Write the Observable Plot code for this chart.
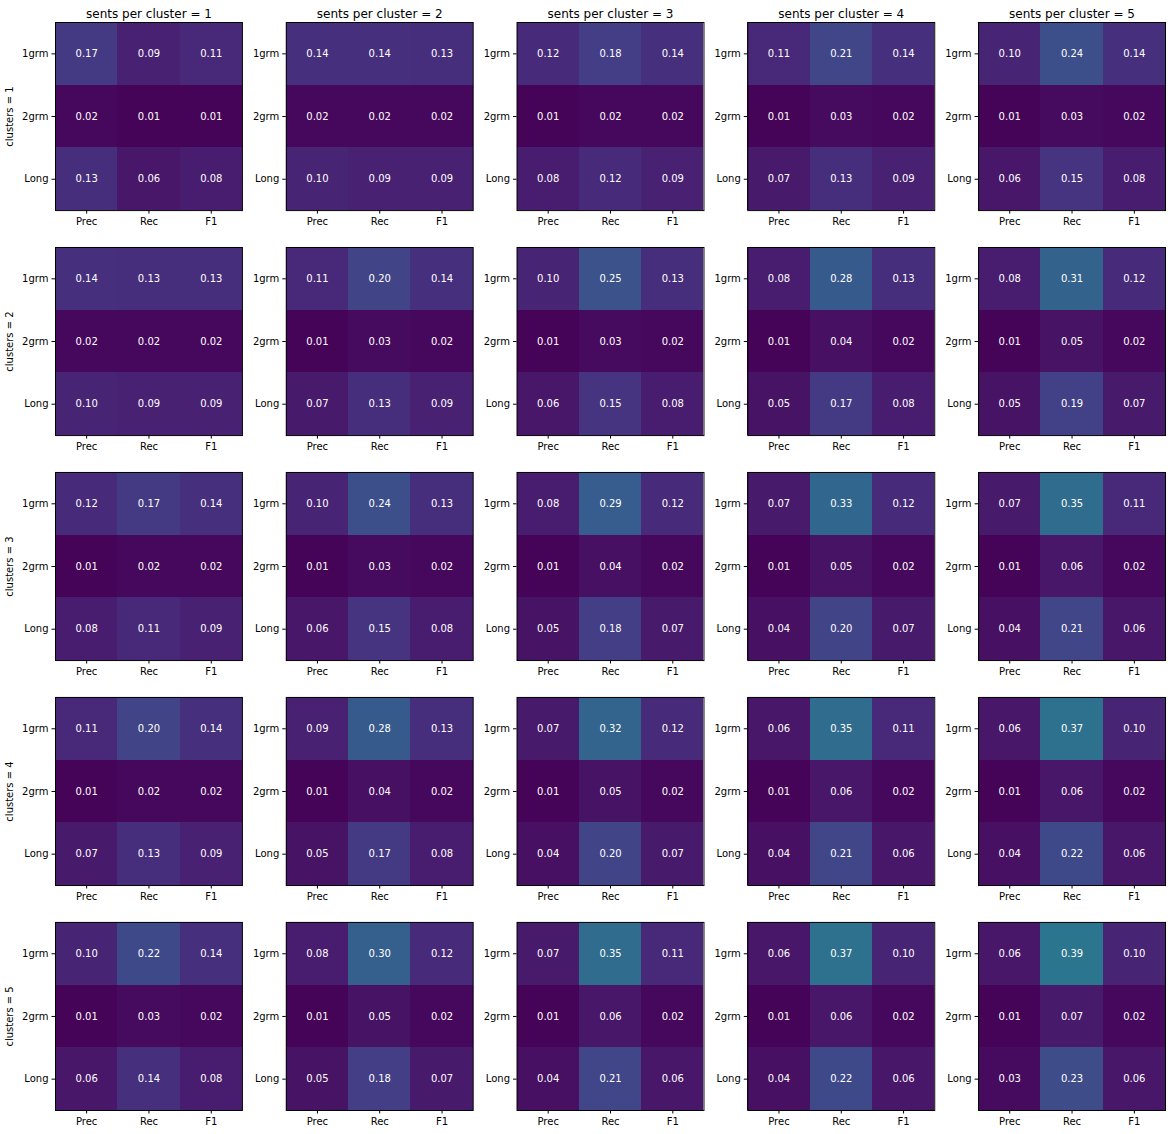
<!DOCTYPE html>
<html>
<head>
<meta charset="utf-8">
<script src="https://cdn.jsdelivr.net/npm/d3@7"></script>
<script src="https://cdn.jsdelivr.net/npm/@observablehq/plot@0.6"></script>
<style>
  html, body { margin: 0; padding: 0; background: white; }
</style>
</head>
<body>
<div id="chart"></div>
<script>
// Categories
const sentsPerCluster = [1, 2, 3, 4, 5];
const clusterCounts = [1, 2, 3, 4, 5];
const metrics = ["Prec", "Rec", "F1"];
const ngrams = ["1grm", "2grm", "Long"];

// Values: for each clusters value, one panel per sents-per-cluster value,
// each panel listed row by row (1grm, 2grm, Long) x (Prec, Rec, F1)
const clusters1 = [
  [0.17, 0.09, 0.11, 0.02, 0.01, 0.01, 0.13, 0.06, 0.08],
  [0.14, 0.14, 0.13, 0.02, 0.02, 0.02, 0.10, 0.09, 0.09],
  [0.12, 0.18, 0.14, 0.01, 0.02, 0.02, 0.08, 0.12, 0.09],
  [0.11, 0.21, 0.14, 0.01, 0.03, 0.02, 0.07, 0.13, 0.09],
  [0.10, 0.24, 0.14, 0.01, 0.03, 0.02, 0.06, 0.15, 0.08]
];
const clusters2 = [
  [0.14, 0.13, 0.13, 0.02, 0.02, 0.02, 0.10, 0.09, 0.09],
  [0.11, 0.20, 0.14, 0.01, 0.03, 0.02, 0.07, 0.13, 0.09],
  [0.10, 0.25, 0.13, 0.01, 0.03, 0.02, 0.06, 0.15, 0.08],
  [0.08, 0.28, 0.13, 0.01, 0.04, 0.02, 0.05, 0.17, 0.08],
  [0.08, 0.31, 0.12, 0.01, 0.05, 0.02, 0.05, 0.19, 0.07]
];
const clusters3 = [
  [0.12, 0.17, 0.14, 0.01, 0.02, 0.02, 0.08, 0.11, 0.09],
  [0.10, 0.24, 0.13, 0.01, 0.03, 0.02, 0.06, 0.15, 0.08],
  [0.08, 0.29, 0.12, 0.01, 0.04, 0.02, 0.05, 0.18, 0.07],
  [0.07, 0.33, 0.12, 0.01, 0.05, 0.02, 0.04, 0.20, 0.07],
  [0.07, 0.35, 0.11, 0.01, 0.06, 0.02, 0.04, 0.21, 0.06]
];
const clusters4 = [
  [0.11, 0.20, 0.14, 0.01, 0.02, 0.02, 0.07, 0.13, 0.09],
  [0.09, 0.28, 0.13, 0.01, 0.04, 0.02, 0.05, 0.17, 0.08],
  [0.07, 0.32, 0.12, 0.01, 0.05, 0.02, 0.04, 0.20, 0.07],
  [0.06, 0.35, 0.11, 0.01, 0.06, 0.02, 0.04, 0.21, 0.06],
  [0.06, 0.37, 0.10, 0.01, 0.06, 0.02, 0.04, 0.22, 0.06]
];
const clusters5 = [
  [0.10, 0.22, 0.14, 0.01, 0.03, 0.02, 0.06, 0.14, 0.08],
  [0.08, 0.30, 0.12, 0.01, 0.05, 0.02, 0.05, 0.18, 0.07],
  [0.07, 0.35, 0.11, 0.01, 0.06, 0.02, 0.04, 0.21, 0.06],
  [0.06, 0.37, 0.10, 0.01, 0.06, 0.02, 0.04, 0.22, 0.06],
  [0.06, 0.39, 0.10, 0.01, 0.07, 0.02, 0.03, 0.23, 0.06]
];

const allClusters = [clusters1, clusters2, clusters3, clusters4, clusters5];
const data = [];
allClusters.forEach((panels, ci) => {
  panels.forEach((vals, si) => {
    vals.forEach((v, k) => {
      data.push({
        clusters: clusterCounts[ci],
        sents: sentsPerCluster[si],
        ngram: ngrams[Math.floor(k / 3)],
        metric: metrics[k % 3],
        v
      });
    });
  });
});

const chart = Plot.plot({
  width: 1172,
  height: 1134,
  marginLeft: 55,
  marginRight: 7,
  marginTop: 22,
  marginBottom: 24,
  style: { fontFamily: "DejaVu Sans", fontSize: "10px", background: "white", color: "black" },
  fx: { domain: sentsPerCluster, paddingInner: 0.19, paddingOuter: 0, round: false },
  fy: { domain: clusterCounts, paddingInner: 0.164, paddingOuter: 0, round: false, axis: null },
  x: { domain: metrics, padding: 0, round: false },
  y: { domain: ngrams, padding: 0, round: false },
  color: { type: "linear", scheme: "viridis", domain: [0, 1] },
  marks: [
    Plot.cell(data, { fx: "sents", fy: "clusters", x: "metric", y: "ngram", fill: "v", inset: 0, shapeRendering: "crispEdges" }),
    Plot.text(data, { fx: "sents", fy: "clusters", x: "metric", y: "ngram", text: d => d.v.toFixed(2), fill: "white", fontSize: 10 }),
    Plot.frame({ stroke: "black", strokeWidth: 1 }),
    Plot.axisX({ facetAnchor: null, tickSize: 3.5, tickPadding: 3.5, label: null, fontSize: 10 }),
    Plot.axisY({ facetAnchor: null, tickSize: 3.5, tickPadding: 3.5, label: null, fontSize: 10 }),
    Plot.axisFx({ anchor: "top", label: null, tickSize: 0, tickPadding: 5, fontSize: 12, tickFormat: d => `sents per cluster = ${d}` }),
    Plot.text(clusterCounts, { fx: () => 1, fy: d => d, text: d => `clusters = ${d}`, frameAnchor: "left", dx: -46, rotate: -90, textAnchor: "middle", fontSize: 10 })
  ]
});
document.getElementById("chart").appendChild(chart);
</script>
</body>
</html>
